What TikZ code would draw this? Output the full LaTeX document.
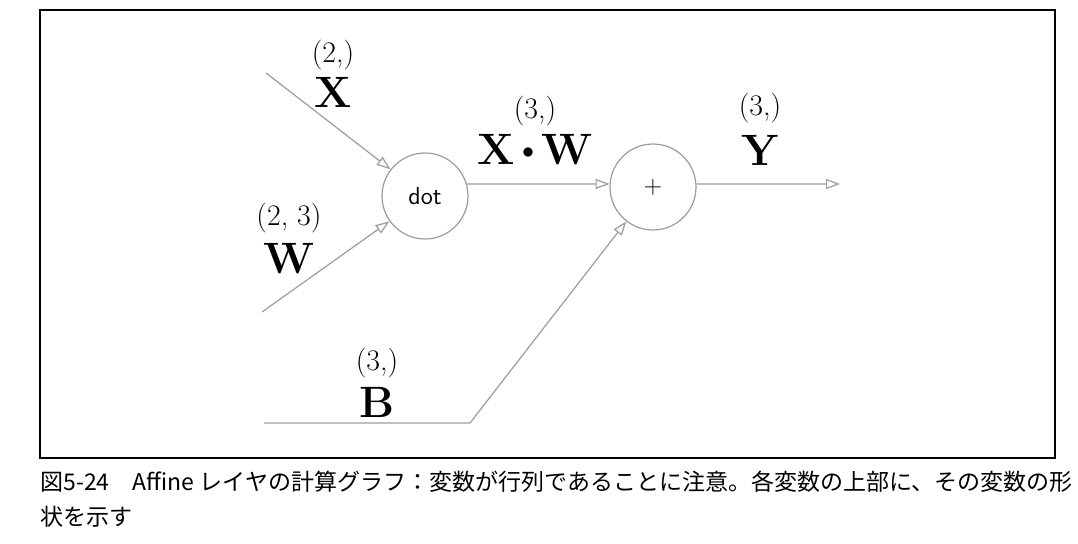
\documentclass[tikz,border=0pt]{standalone}
\usepackage{fontspec}
\newfontfamily\jpfont{Noto Sans CJK JP}
\usetikzlibrary{arrows.meta, positioning}

\begin{document}
\begin{tikzpicture}[
    x=0.02cm, y=-0.02cm, >={Triangle[open, length=0.28cm, width=0.2cm]}, node distance=0.78cm,
    line/.style={draw=black!38, line width=0.7pt},
    op/.style={circle, draw=black!38, line width=0.7pt, minimum size=1.72cm, inner sep=0pt, font=\sffamily\fontsize{14}{16}\selectfont},
    shape_label/.style={font=\fontsize{17}{20}\selectfont, inner sep=0pt},
    var_label/.style={font=\fontsize{25}{28}\selectfont\bfseries, inner sep=0pt}
]
\useasboundingbox (0,0) rectangle (1078,544);
\draw[line width=0.7pt] (40,10) rectangle (1055,458);

\node (dot_node) [op] at (425,196) {dot};
\node (plus_node) [op] at (653,187) {+};

\coordinate (x_in) at (266,73);
\coordinate (w_in) at (262,312);
\coordinate (b_in) at (264,423);
\coordinate (b_bend) at (470,423);
\coordinate (y_out) at (840,184);

\node (x_shape) [shape_label] at (333,55) {(2,)};
\node (x_label) [var_label, below of=x_shape, yshift=0.04cm] {X};
\node (w_shape) [shape_label] at (289,218) {(2,\ 3)};
\node (w_label) [var_label, below of=w_shape, yshift=-0.04cm] {W};
\node (xw_shape) [shape_label] at (535,111) {(3,)};
\node (xw_label) [var_label, below of=xw_shape] {X\,\raisebox{0.33ex}{\scalebox{0.55}{$\bullet$}}\,W};
\node (y_shape) [shape_label] at (760,108) {(3,)};
\node (y_label) [var_label, below of=y_shape, yshift=-0.06cm] {Y};
\node (b_shape) [shape_label] at (377,363) {(3,)};
\node (b_label) [var_label, below of=b_shape] {B};

\draw[line, ->] (x_in) -- (dot_node);
\draw[line, ->] (w_in) -- (dot_node);
\draw[line, ->] (dot_node.16) -- (plus_node.176);
\draw[line, ->] (plus_node.4) -- (y_out);
\draw[line, ->] (b_in) -- (b_bend) -- (plus_node);

% caption
\node (caption) [anchor=west, align=left, inner sep=0pt, font=\jpfont\fontsize{13.1}{20}\selectfont] at (40,499) {図5-24　Affine レイヤの計算グラフ：変数が行列であることに注意。各変数の上部に、その変数の形\\状を示す};
\end{tikzpicture}
\end{document}
